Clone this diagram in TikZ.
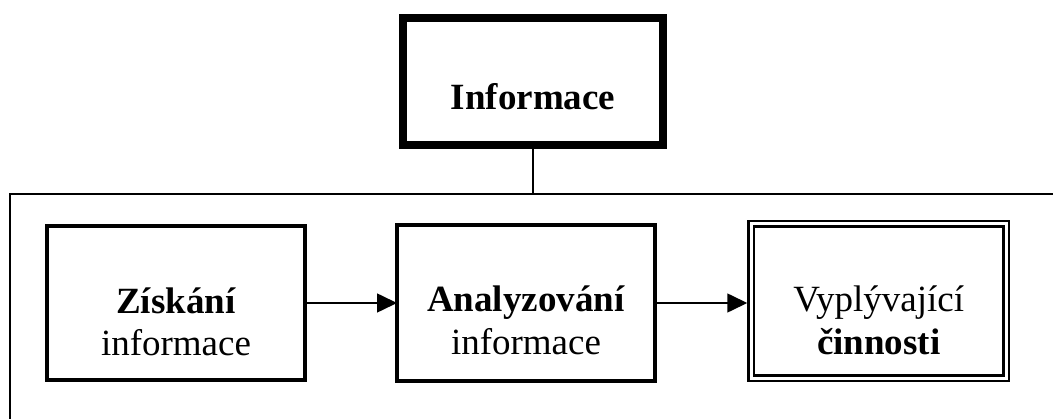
\documentclass[tikz,border=0pt]{standalone}
\usepackage{fontspec}
\setmainfont{Liberation Serif}
\usetikzlibrary{arrows.meta}
\begin{document}
\begin{tikzpicture}[x=1pt,y=-1pt,
  box/.style={draw, rectangle, inner sep=0pt, outer sep=0pt},
  lbl/.style={anchor=base, inner sep=0pt, font=\fontsize{37}{42}\selectfont},
  arr/.style={line width=1.6pt, -{Triangle[length=20pt,width=19pt]}},
  thin/.style={line width=2pt}]
\useasboundingbox (0,0) rectangle (1053,419);
% frame
\coordinate (ftr) at (1055,194);
\coordinate (ftl) at (10,194);
\coordinate (fbl) at (10,421);
\draw[thin] (ftr) -- (ftl) -- (fbl);
% boxes
\node[box, line width=8pt, minimum width=260pt, minimum height=127pt] (info) at (533,81.5) {};
\node[box, line width=4pt, minimum width=258pt, minimum height=154pt] (zis) at (176,303) {};
\node[box, line width=4pt, minimum width=258pt, minimum height=156pt] (ana) at (526,303) {};
\node[box, line width=2.7pt, double, double distance=2.8pt, minimum width=255pt, minimum height=154.5pt] (vyp) at (878.75,301) {};
% texts
\node[lbl] (tinfo) at (533,110) {\textbf{Informace}};
\node[lbl] (tzis1) at (176,314) {\textbf{Získání}};
\node[lbl] (tzis2) at (176,356) {informace};
\node[lbl] (tana1) at (526,312) {\textbf{Analyzování}};
\node[lbl] (tana2) at (526,355) {informace};
\node[lbl] (tvyp1) at (878.75,312) {Vyplývající};
\node[lbl] (tvyp2) at (878.75,355) {\textbf{činnosti}};
% connectors
\draw[thin] (info.south) -- (info.south |- ftl);
\draw[arr] (zis.east) -- (ana.west |- zis.east);
\draw[arr] (ana.east) -- ([xshift=-4pt]vyp.west |- ana.east);
\end{tikzpicture}
\end{document}
